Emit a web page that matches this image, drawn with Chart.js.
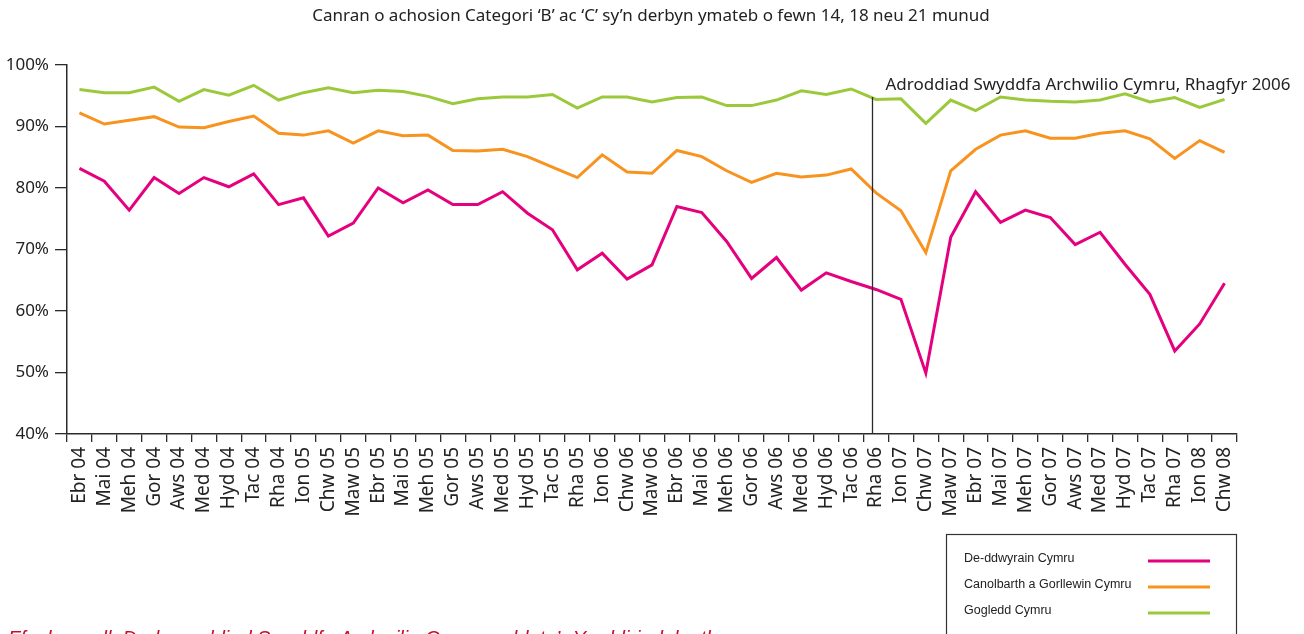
<!DOCTYPE html>
<html>
<head>
<meta charset="utf-8">
<script src="https://cdn.jsdelivr.net/npm/chart.js@4"></script>
<style>
  html, body { margin: 0; padding: 0; background: #fff; overflow: hidden; }
  canvas { display: block; }
</style>
</head>
<body>
<canvas id="myChart" width="1304" height="634"></canvas>
<script>
// month labels, Ebrill 2004 .. Chwefror 2008
const labels = [
  "Ebr 04", "Mai 04", "Meh 04", "Gor 04", "Aws 04", "Med 04", "Hyd 04", "Tac 04", "Rha 04",
  "Ion 05", "Chw 05", "Maw 05", "Ebr 05", "Mai 05", "Meh 05", "Gor 05", "Aws 05", "Med 05", "Hyd 05", "Tac 05", "Rha 05",
  "Ion 06", "Chw 06", "Maw 06", "Ebr 06", "Mai 06", "Meh 06", "Gor 06", "Aws 06", "Med 06", "Hyd 06", "Tac 06", "Rha 06",
  "Ion 07", "Chw 07", "Maw 07", "Ebr 07", "Mai 07", "Meh 07", "Gor 07", "Aws 07", "Med 07", "Hyd 07", "Tac 07", "Rha 07",
  "Ion 08", "Chw 08"
];

const deDdwyrain = [
  83.2, 81.1, 76.4, 81.7, 79.1, 81.7, 80.2, 82.3, 77.3,
  78.4, 72.2, 74.3, 80.0, 77.6, 79.7, 77.3, 77.3, 79.4, 75.9, 73.2, 66.7,
  69.4, 65.2, 67.5, 77.0, 76.0, 71.3, 65.3, 68.7, 63.4, 66.2, 64.8, 63.5,
  61.9, 49.9, 72.0, 79.4, 74.4, 76.4, 75.2, 70.8, 72.8, 67.6, 62.7, 53.5,
  57.9, 64.5
];

const canolbarth = [
  92.2, 90.4, 91.0, 91.6, 89.9, 89.8, 90.8, 91.7, 88.9,
  88.6, 89.3, 87.3, 89.3, 88.5, 88.6, 86.1, 86.0, 86.3, 85.1, 83.4, 81.7,
  85.4, 82.6, 82.4, 86.1, 85.1, 82.8, 80.9, 82.4, 81.8, 82.1, 83.1, 79.2,
  76.3, 69.5, 82.8, 86.3, 88.6, 89.3, 88.1, 88.1, 88.9, 89.3, 88.0, 84.8,
  87.7, 85.8
];

const gogledd = [
  96.0, 95.5, 95.5, 96.4, 94.1, 96.0, 95.1, 96.7, 94.3,
  95.5, 96.3, 95.5, 95.9, 95.7, 94.9, 93.7, 94.5, 94.8, 94.8, 95.2, 93.0,
  94.8, 94.8, 94.0, 94.7, 94.8, 93.4, 93.4, 94.3, 95.8, 95.2, 96.1, 94.4,
  94.5, 90.5, 94.3, 92.6, 94.8, 94.3, 94.1, 94.0, 94.3, 95.3, 94.0, 94.7,
  93.1, 94.4
];

const seriesNames = ["De-ddwyrain Cymru", "Canolbarth a Gorllewin Cymru", "Gogledd Cymru"];
const seriesColors = ["#e5007d", "#f7931e", "#9cc93b"];

const titleText = "Canran o achosion Categori \u2018B\u2019 ac \u2018C\u2019 sy\u2019n derbyn ymateb o fewn 14, 18 neu 21 munud";
const noteText = "Adroddiad Swyddfa Archwilio Cymru, Rhagfyr 2006";
const noteIndex = 32; // Rha 06
const sourceText = "Ffynhonnell: Dadansoddiad Swyddfa Archwilio Cymru o ddata\u2019r Ymddiriedolaeth";

const axisColor = "#2b2b2b";
const textFont = "'Noto Sans', 'Open Sans', sans-serif";

// title, report marker, legend box and source line
const extras = {
  id: "extras",
  afterDraw(chart) {
    const c = chart.ctx;
    const area = chart.chartArea;
    const xs = chart.scales.x;
    c.save();

    c.fillStyle = "#222";
    c.font = "17px " + textFont;
    c.textAlign = "center";
    c.textBaseline = "alphabetic";
    c.fillText(titleText, 651, 21, 678);

    // vertical marker just before Rha 06
    const x0 = xs.getPixelForValue(noteIndex - 1);
    const x1 = xs.getPixelForValue(noteIndex);
    const mx = Math.round(x0 + (x1 - x0) * 0.85) + 0.5;
    c.strokeStyle = axisColor;
    c.lineWidth = 1.3;
    c.beginPath();
    c.moveTo(mx, 97);
    c.lineTo(mx, area.bottom);
    c.stroke();

    c.font = "17px " + textFont;
    c.textAlign = "left";
    c.fillStyle = "#222";
    c.fillText(noteText, mx + 13, 90, 405);

    // legend box
    c.strokeStyle = "#333";
    c.lineWidth = 1.2;
    c.strokeRect(946.5, 534.5, 290, 120);
    c.font = "12.5px 'Liberation Sans', Arial, sans-serif";
    c.textBaseline = "middle";
    chart.data.datasets.forEach((ds, i) => {
      const y = 560 + i * 26;
      c.fillStyle = "#222";
      c.fillText(ds.label, 964, y - 1, 172);
      c.strokeStyle = ds.borderColor;
      c.lineWidth = 3;
      c.beginPath();
      c.moveTo(1148, y + 1);
      c.lineTo(1210, y + 1);
      c.stroke();
    });

    // source line, mostly cut off by the bottom edge
    c.fillStyle = "#c8102e";
    c.font = "italic 20px 'Liberation Sans', Arial, sans-serif";
    c.textBaseline = "alphabetic";
    c.fillText(sourceText, 8, 645, 728);

    c.restore();
  }
};

const config = {
  type: "line",
  data: {
    labels: labels,
    datasets: [
      { label: seriesNames[0], data: deDdwyrain, borderColor: seriesColors[0] },
      { label: seriesNames[1], data: canolbarth, borderColor: seriesColors[1] },
      { label: seriesNames[2], data: gogledd, borderColor: seriesColors[2] }
    ]
  },
  options: {
    responsive: false,
    animation: false,
    layout: { padding: { top: 65, right: 67, left: 0, bottom: 0 } },
    elements: {
      line: { borderWidth: 3, tension: 0, fill: false, borderJoinStyle: "miter" },
      point: { radius: 0, hoverRadius: 0 }
    },
    plugins: {
      legend: { display: false },
      tooltip: { enabled: false },
      title: { display: false }
    },
    scales: {
      x: {
        type: "category",
        offset: true,
        afterFit(s) { s.height = 200; },
        grid: {
          offset: true,
          drawOnChartArea: false,
          drawTicks: true,
          tickLength: 8,
          color: axisColor,
          lineWidth: 1.3
        },
        border: { color: axisColor, width: 1.5 },
        ticks: {
          autoSkip: false,
          minRotation: 90,
          maxRotation: 90,
          padding: 5,
          color: "#222",
          font: { family: textFont, size: 19 }
        }
      },
      y: {
        min: 40,
        max: 100,
        afterFit(s) { s.width = 67; },
        grid: {
          drawOnChartArea: false,
          drawTicks: true,
          tickLength: 12,
          color: axisColor,
          lineWidth: 1.3
        },
        border: { color: axisColor, width: 1.5 },
        ticks: {
          stepSize: 10,
          padding: 6,
          color: "#222",
          font: { family: textFont, size: 17 },
          callback: (v) => v + "%"
        }
      }
    }
  },
  plugins: [extras]
};

const myChart = new Chart(document.getElementById("myChart").getContext("2d"), config);
</script>
</body>
</html>
